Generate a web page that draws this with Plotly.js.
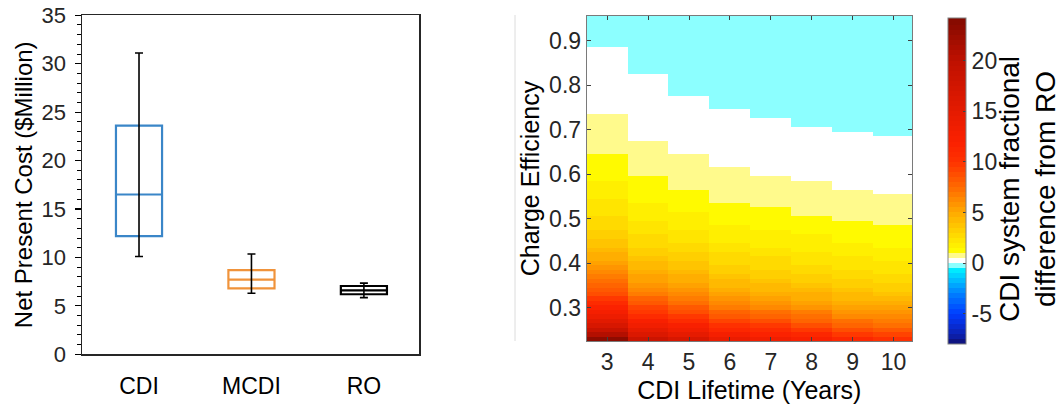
<!DOCTYPE html>
<html>
<head>
<meta charset="utf-8">
<script src="https://cdn.plot.ly/plotly-3.0.1.min.js"></script>
<style>html,body{margin:0;padding:0;background:#fff;}#chart{width:1062px;height:404px;}</style>
</head>
<body>
<div id="chart"></div>
<script>
// ---------- Box plot data (Net Present Cost, $Million) ----------
const categories = ['CDI', 'MCDI', 'RO'];
const q1 = [12.2, 6.8, 6.2];
const median = [16.5, 7.7, 6.6];
const q3 = [23.6, 8.7, 7.05];
const whiskerLow = [10.1, 6.3, 5.85];
const whiskerHigh = [31.1, 10.35, 7.35];

// ---------- Heatmap data ----------
const lifetimeYears = [3, 4, 5, 6, 7, 8, 9, 10];
const chargeEfficiency = [0.23,0.24,0.25,0.26,0.27,0.28,0.29,0.30,0.31,0.32,0.33,0.34,0.35,0.36,0.37,0.38,0.39,0.40,0.41,0.42,0.43,0.44,0.45,0.46,0.47,0.48,0.49,0.50,0.51,0.52,0.53,0.54,0.55,0.56,0.57,0.58,0.59,0.60,0.61,0.62,0.63,0.64,0.65,0.66,0.67,0.68,0.69,0.70,0.71,0.72,0.73,0.74,0.75,0.76,0.77,0.78,0.79,0.80,0.81,0.82,0.83,0.84,0.85,0.86,0.87,0.88,0.89,0.90,0.91,0.92,0.93,0.94,0.95];
// fractional difference from RO, one array per CDI lifetime (rows follow chargeEfficiency)
const diffLife3 = [23.21,20.79,18.69,16.87,15.28,13.88,12.64,11.55,10.57,9.70,8.93,8.22,7.59,7.02,6.50,6.03,5.60,5.20,4.84,4.51,4.20,3.92,3.66,3.42,3.20,2.99,2.80,2.62,2.45,2.30,2.16,2.02,1.89,1.77,1.66,1.55,1.45,1.36,1.27,1.19,1.11,1.03,0.97,0.90,0.83,0.77,0.72,0.66,0.61,0.56,0.51,0.47,0.42,0.39,0.34,0.31,0.27,0.24,0.20,0.17,0.14,0.12,0.09,0.06,0.04,0.01,-0.01,-0.03,-0.05,-0.08,-0.10,-0.11,-0.13];
const diffLife4 = [18.33,16.41,14.74,13.29,12.02,10.91,9.93,9.06,8.28,7.59,6.97,6.41,5.91,5.45,5.04,4.67,4.32,4.01,3.72,3.46,3.22,2.99,2.79,2.60,2.42,2.25,2.10,1.96,1.83,1.70,1.59,1.48,1.38,1.28,1.20,1.11,1.03,0.96,0.89,0.82,0.75,0.70,0.64,0.59,0.54,0.49,0.44,0.40,0.36,0.32,0.28,0.24,0.21,0.18,0.15,0.12,0.09,0.07,0.04,0.01,-0.01,-0.03,-0.06,-0.08,-0.09,-0.11,-0.13,-0.15,-0.17,-0.19,-0.20,-0.22,-0.23];
const diffLife5 = [16.70,14.93,13.40,12.07,10.91,9.89,8.98,8.19,7.48,6.84,6.27,5.76,5.30,4.88,4.50,4.16,3.84,3.56,3.29,3.05,2.83,2.63,2.43,2.26,2.10,1.94,1.81,1.68,1.55,1.44,1.34,1.24,1.14,1.05,0.97,0.89,0.82,0.76,0.69,0.63,0.57,0.52,0.47,0.42,0.37,0.32,0.28,0.24,0.20,0.17,0.14,0.10,0.07,0.04,0.01,-0.01,-0.04,-0.06,-0.09,-0.11,-0.13,-0.15,-0.17,-0.19,-0.21,-0.23,-0.24,-0.26,-0.28,-0.29,-0.31,-0.32,-0.33];
const diffLife6 = [14.11,12.61,11.31,10.18,9.19,8.33,7.56,6.88,6.28,5.74,5.26,4.82,4.43,4.07,3.75,3.46,3.19,2.95,2.72,2.52,2.33,2.16,1.99,1.85,1.71,1.58,1.46,1.35,1.25,1.15,1.06,0.98,0.90,0.82,0.75,0.69,0.63,0.57,0.51,0.46,0.41,0.36,0.32,0.28,0.24,0.20,0.17,0.13,0.10,0.07,0.04,0.01,-0.01,-0.04,-0.06,-0.09,-0.11,-0.13,-0.15,-0.17,-0.19,-0.20,-0.22,-0.24,-0.25,-0.27,-0.28,-0.30,-0.31,-0.32,-0.33,-0.35,-0.36];
const diffLife7 = [13.20,11.79,10.57,9.51,8.58,7.77,7.04,6.41,5.84,5.33,4.88,4.47,4.11,3.77,3.47,3.20,2.94,2.71,2.50,2.31,2.14,1.97,1.82,1.68,1.55,1.43,1.32,1.22,1.12,1.03,0.94,0.86,0.79,0.72,0.65,0.59,0.53,0.48,0.43,0.38,0.33,0.29,0.25,0.21,0.17,0.14,0.10,0.07,0.04,0.01,-0.01,-0.04,-0.07,-0.09,-0.11,-0.13,-0.15,-0.17,-0.19,-0.21,-0.23,-0.24,-0.26,-0.28,-0.29,-0.30,-0.32,-0.33,-0.34,-0.36,-0.37,-0.38,-0.39];
const diffLife8 = [12.33,11.00,9.86,8.86,7.99,7.23,6.56,5.96,5.43,4.95,4.53,4.14,3.80,3.48,3.20,2.95,2.71,2.49,2.30,2.12,1.95,1.80,1.65,1.52,1.40,1.29,1.18,1.09,0.99,0.91,0.83,0.76,0.69,0.62,0.56,0.51,0.45,0.40,0.35,0.30,0.26,0.22,0.18,0.14,0.11,0.07,0.04,0.01,-0.01,-0.04,-0.06,-0.09,-0.11,-0.13,-0.16,-0.18,-0.20,-0.21,-0.23,-0.25,-0.27,-0.28,-0.30,-0.31,-0.32,-0.34,-0.35,-0.36,-0.37,-0.39,-0.40,-0.41,-0.42];
const diffLife9 = [11.08,9.89,8.85,7.96,7.17,6.49,5.88,5.34,4.86,4.43,4.05,3.71,3.39,3.11,2.86,2.63,2.41,2.22,2.04,1.88,1.73,1.59,1.46,1.35,1.23,1.13,1.04,0.95,0.87,0.79,0.72,0.66,0.59,0.53,0.48,0.42,0.38,0.33,0.29,0.24,0.21,0.17,0.14,0.10,0.07,0.04,0.01,-0.01,-0.04,-0.06,-0.09,-0.11,-0.13,-0.15,-0.17,-0.19,-0.21,-0.22,-0.24,-0.25,-0.27,-0.28,-0.30,-0.31,-0.32,-0.33,-0.34,-0.36,-0.36,-0.38,-0.39,-0.39,-0.40];
const diffLife10 = [10.42,9.30,8.33,7.48,6.74,6.09,5.52,5.01,4.56,4.16,3.80,3.47,3.18,2.91,2.67,2.45,2.25,2.07,1.90,1.75,1.61,1.48,1.35,1.24,1.14,1.04,0.96,0.87,0.79,0.72,0.66,0.59,0.53,0.48,0.43,0.37,0.33,0.29,0.24,0.21,0.17,0.13,0.10,0.07,0.04,0.01,-0.01,-0.04,-0.06,-0.09,-0.11,-0.13,-0.15,-0.17,-0.19,-0.20,-0.22,-0.23,-0.25,-0.26,-0.28,-0.29,-0.30,-0.32,-0.33,-0.34,-0.35,-0.36,-0.37,-0.38,-0.39,-0.40,-0.41];
const colorbarTicks = [-5, 0, 5, 10, 15, 20];
const colorbarTickText = ['-5', '0', '5', '10', '15', '20'];

// ---------- build matrix for the heatmap ----------
const columns = [diffLife3, diffLife4, diffLife5, diffLife6, diffLife7, diffLife8, diffLife9, diffLife10];
const zMatrix = chargeEfficiency.map((_, i) => columns.map(col => col[i]));

// ---------- stepped colour map (steps of 0.5) ----------
const ZMIN = -8, ZMAX = 24.2;
const anchors = [
  [-8, [15, 20, 130]], [-6.5, [10, 40, 200]], [-5, [0, 60, 255]], [-3, [0, 130, 255]],
  [-1.5, [0, 200, 255]], [-0.5, [0, 245, 255]],
  [1.0, [255, 255, 0]], [3.0, [255, 213, 0]], [5.0, [255, 168, 0]], [7.5, [255, 105, 0]],
  [10, [255, 50, 0]], [12, [250, 32, 0]], [15, [228, 26, 0]], [20, [190, 16, 0]], [24.2, [128, 10, 0]]
];
function colorAt(v) {
  if (v >= -0.5 && v < 0) return 'rgb(140,255,255)';
  if (v >= 0 && v < 0.5) return 'rgb(255,255,255)';
  if (v >= 0.5 && v < 1) return 'rgb(255,250,140)';
  for (let i = 0; i < anchors.length - 1; i++) {
    const [a, ca] = anchors[i], [b, cb] = anchors[i + 1];
    if (v >= a && v <= b) {
      const t = (v - a) / (b - a);
      const c = ca.map((x, k) => Math.round(x + (cb[k] - x) * t));
      return 'rgb(' + c.join(',') + ')';
    }
  }
  return v < anchors[0][0] ? 'rgb(15,20,130)' : 'rgb(128,10,0)';
}
const colorscale = [];
for (let k = 0; ; k++) {
  const lo = ZMIN + 0.5 * k;
  if (lo >= ZMAX - 1e-9) break;
  const hi = Math.min(lo + 0.5, ZMAX);
  const c = colorAt(k === 0 ? lo : (lo + 0.25 < hi ? lo + 0.25 : lo));
  colorscale.push([(lo - ZMIN) / (ZMAX - ZMIN), c]);
  colorscale.push([Math.min(1, (hi - ZMIN) / (ZMAX - ZMIN)), c]);
}
colorscale[0][0] = 0;
colorscale[colorscale.length - 1][0] = 1;

// ---------- traces ----------
const boxColors = ['#3A86C8', '#F0933B', '#000000'];
const traces = [];
categories.forEach((c, i) => {
  traces.push({
    type: 'box', x: [c], q1: [q1[i]], median: [median[i]], q3: [q3[i]],
    lowerfence: [q1[i]], upperfence: [q3[i]],
    width: 0.41, whiskerwidth: 0, boxpoints: false,
    line: { color: boxColors[i], width: 2.2 }, fillcolor: 'rgba(0,0,0,0)',
    xaxis: 'x', yaxis: 'y', showlegend: false, hoverinfo: 'skip'
  });
});
traces.push({
  type: 'scatter', mode: 'markers', x: categories, y: median,
  marker: { color: 'rgba(0,0,0,0)', size: 2 },
  error_y: {
    type: 'data', symmetric: false,
    array: whiskerHigh.map((v, i) => v - median[i]),
    arrayminus: median.map((v, i) => v - whiskerLow[i]),
    color: '#000', thickness: 1.6, width: 4
  },
  xaxis: 'x', yaxis: 'y', showlegend: false, hoverinfo: 'skip'
});
traces.push({
  type: 'heatmap', x: lifetimeYears, y: chargeEfficiency, z: zMatrix,
  zmin: ZMIN, zmax: ZMAX, colorscale: colorscale, zsmooth: false,
  xaxis: 'x2', yaxis: 'y2',
  colorbar: {
    x: 948 / 1062, xanchor: 'left', xpad: 0, ypad: 0,
    y: 1 - 181.2 / 404, yanchor: 'middle',
    thickness: 18, thicknessmode: 'pixels',
    len: 326 / 404, lenmode: 'fraction',
    outlinecolor: '#808080', outlinewidth: 1,
    tickmode: 'array', tickvals: colorbarTicks, ticktext: colorbarTickText,
    ticks: 'inside', ticklen: 3, tickcolor: '#404040',
    tickfont: { size: 23, color: '#262626' }
  }
});

const FONT = 'Liberation Sans, Arial, Helvetica, sans-serif';
const layout = {
  width: 1062, height: 404,
  margin: { l: 0, r: 0, t: 0, b: 0 },
  paper_bgcolor: '#fff', plot_bgcolor: '#fff',
  font: { family: FONT, color: '#262626', size: 20 },
  showlegend: false,
  xaxis: {
    domain: [82 / 1062, 419 / 1062], anchor: 'y', type: 'category',
    range: [-0.507, 2.49], showgrid: false, zeroline: false,
    showline: true, linecolor: '#262626', linewidth: 1.5, mirror: true,
    ticks: '', tickfont: { size: 23, color: '#000' }, ticklabelstandoff: 11,
    automargin: false
  },
  yaxis: {
    domain: [1 - 354.3 / 404, 1 - 15.3 / 404], anchor: 'x',
    range: [0, 35], dtick: 5, showgrid: false, zeroline: false,
    showline: true, linecolor: '#262626', linewidth: 1.5, mirror: true,
    ticks: 'outside', ticklen: 6, tickwidth: 1.2, tickcolor: '#000',
    minor: { dtick: 1, ticks: 'outside', ticklen: 4, tickcolor: '#000', tickwidth: 1 },
    tickfont: { size: 22, color: '#262626' }, ticklabelstandoff: 4,
    title: { text: 'Net Present Cost ($Million)', font: { size: 24, color: '#000' }, standoff: 2 },
    automargin: false
  },
  xaxis2: {
    domain: [586.7 / 1062, 912 / 1062], anchor: 'y2',
    range: [2.5, 10.45], tickmode: 'array', tickvals: lifetimeYears,
    showgrid: false, zeroline: false, showline: true, linecolor: '#7a7a7a', linewidth: 1,
    mirror: 'ticks', ticks: 'inside', ticklen: 4, tickcolor: '#404040',
    tickfont: { size: 23, color: '#262626' },
    title: { text: 'CDI Lifetime (Years)', font: { size: 25, color: '#000' }, standoff: 10 },
    automargin: false
  },
  yaxis2: {
    domain: [1 - 341 / 404, 1 - 16 / 404], anchor: 'x2',
    range: [0.225, 0.955], tickmode: 'array', tickvals: [0.3, 0.4, 0.5, 0.6, 0.7, 0.8, 0.9],
    tickformat: '.1f',
    showgrid: false, zeroline: false, showline: true, linecolor: '#7a7a7a', linewidth: 1,
    mirror: 'ticks', ticks: 'inside', ticklen: 4, tickcolor: '#404040',
    tickfont: { size: 23, color: '#262626' },
    title: { text: 'Charge Efficiency', font: { size: 25, color: '#000' }, standoff: 2 },
    automargin: false
  },
  annotations: [{
    xref: 'paper', yref: 'paper', x: 1027 / 1062, y: 1 - 189 / 404,
    xanchor: 'center', yanchor: 'middle', textangle: -90, showarrow: false,
    text: 'CDI system fractional<br>difference from RO',
    font: { size: 28, color: '#000', family: FONT }
  }],
  shapes: [{
    type: 'line', xref: 'paper', yref: 'paper',
    x0: 515 / 1062, x1: 515 / 1062, y0: 1 - 341 / 404, y1: 1 - 15 / 404,
    line: { color: '#dcdcdc', width: 1 }
  }]
};

Plotly.newPlot('chart', traces, layout, { staticPlot: true, displayModeBar: false });
</script>
</body>
</html>
